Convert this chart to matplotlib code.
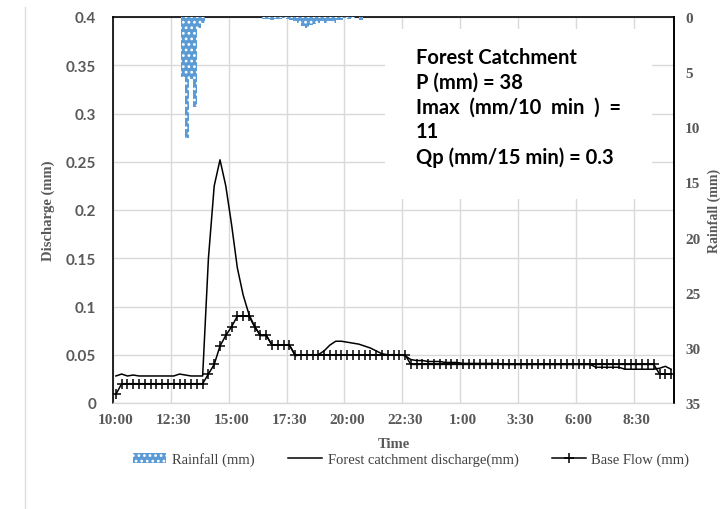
import numpy as np
import matplotlib
matplotlib.use("Agg")
import matplotlib.pyplot as plt
from matplotlib.patches import Patch, Rectangle
from matplotlib.lines import Line2D

# ---------------- data ----------------
start_time = "10:00"
step_min = 15
forest_q = [
    0.028, 0.030, 0.028, 0.029, 0.028, 0.028, 0.028, 0.028, 0.028, 0.028,
    0.028, 0.030, 0.029, 0.028, 0.028, 0.028, 0.150, 0.225, 0.252, 0.225,
    0.185, 0.140, 0.112, 0.092, 0.079, 0.070, 0.070, 0.060, 0.060, 0.060,
    0.060, 0.049, 0.050, 0.050, 0.050, 0.050, 0.054, 0.060, 0.064, 0.064,
    0.063, 0.062, 0.061, 0.059, 0.057, 0.054, 0.051, 0.050, 0.050, 0.050,
    0.049, 0.045, 0.044, 0.044, 0.043, 0.043, 0.043, 0.042, 0.042, 0.042,
    0.041, 0.041, 0.041, 0.041, 0.041, 0.041, 0.041, 0.040, 0.040, 0.040,
    0.040, 0.040, 0.040, 0.040, 0.040, 0.040, 0.040, 0.040, 0.040, 0.040,
    0.040, 0.040, 0.040, 0.037, 0.037, 0.037, 0.037, 0.037, 0.035, 0.035,
    0.035, 0.035, 0.035, 0.035, 0.036, 0.038, 0.035,
]
base_q = (
    [0.009] + [0.020] * 15 +
    [0.030, 0.040, 0.059, 0.070, 0.079, 0.090, 0.090, 0.090,
     0.079, 0.070, 0.070, 0.060, 0.060, 0.060, 0.060] +
    [0.050] * 20 + [0.040] * 43 + [0.030] * 3
)

rain_start = ["12:50", "13:00", "13:10", "13:20", "13:30", "13:40",
              "16:20", "16:30", "16:40", "16:50", "17:00", "17:10", "17:20",
              "17:30", "17:40", "17:50", "18:00", "18:10", "18:20", "18:30",
              "18:40", "18:50", "19:00", "19:10", "19:20", "19:30", "19:40",
              "19:50", "20:00", "20:10", "20:30"]
rain_mm = [5.4, 11.0, 5.6, 8.2, 1.0, 0.5,
           0.2, 0.2, 0.3, 0.2, 0.2, 0.1, 0.2,
           0.3, 0.4, 0.5, 0.8, 1.0, 0.7, 0.6,
           0.5, 0.4, 0.5, 0.4, 0.5, 0.3, 0.3,
           0.1, 0.2, 0.1, 0.3]

xtick_labels = ["10:00", "12:30", "15:00", "17:30", "20:00", "22:30",
                "1:00", "3:30", "6:00", "8:30"]
label_step_min = 150
ytick_left = [0, 0.05, 0.1, 0.15, 0.2, 0.25, 0.3, 0.35, 0.4]
ytick_right = [0, 5, 10, 15, 20, 25, 30, 35]

note = "Forest Catchment\nP (mm) = 38\nImax  (mm/10  min  )  =\n11\nQp (mm/15 min) = 0.3"


def to_min(s):
    h, m = map(int, s.split(":"))
    h0, m0 = map(int, start_time.split(":"))
    d = (h * 60 + m) - (h0 * 60 + m0)
    return d if d >= 0 else d + 1440


t = np.arange(len(forest_q)) * step_min
rain_t = [to_min(s) for s in rain_start]

# ---------------- figure ----------------
W, H = 728, 510
fig = plt.figure(figsize=(W / 100, H / 100), dpi=100)
ax = fig.add_axes([113 / W, 1 - 404 / H, 561 / W, 386 / H])

serif = "Liberation Serif"
sans = "Lato"
grey = "#595959"
gridc = "#D9D9D9"

half = step_min / 2
ax.set_xlim(-half, t[-1] + half)
ax.set_ylim(0, 0.4)

# gridlines between categories (Excel style), labels on categories
lab_pos = np.arange(len(xtick_labels)) * label_step_min
ax.set_xticks(lab_pos)
ax.set_xticklabels(xtick_labels, fontfamily=serif, fontweight="bold",
                   fontsize=11, color=grey)
ax.set_xticks(lab_pos - half, minor=True)
ax.tick_params(axis="x", which="both", length=0, pad=7)
ax.grid(False)
ax.xaxis.grid(True, which="minor", color=gridc, lw=1.0)

ax.set_yticks(ytick_left)
ax.set_yticklabels([f"{v:g}" for v in ytick_left], fontfamily=sans,
                   fontweight="bold", fontsize=11, color=grey)
ax.tick_params(axis="y", length=0, pad=12)
ax.yaxis.grid(True, color=gridc, lw=1.0)
ax.set_axisbelow(True)

ax.plot(t, forest_q, color="black", lw=1.1, zorder=3,
        label="Forest catchment discharge(mm)")
ax.plot(t, base_q, color="black", lw=1.1, marker="+", ms=7, mew=1.1,
        zorder=3, label="Base Flow (mm)")

ax.set_xlabel("Time", fontfamily=serif, fontweight="bold", fontsize=10.5,
              color=grey, labelpad=8)
ax.set_ylabel("Discharge (mm)", fontfamily=serif, fontweight="bold",
              fontsize=10.5, color=grey, labelpad=8)

for s in ["top", "left", "right"]:
    ax.spines[s].set_color("black")
    ax.spines[s].set_linewidth(1.2)
ax.spines["bottom"].set_color(gridc)
ax.spines["bottom"].set_linewidth(1.0)

# white annotation box
ax.add_patch(Rectangle((0.485, 0.528), 0.476, 0.441, transform=ax.transAxes,
                       facecolor="white", edgecolor="none", zorder=2))

# rainfall on inverted secondary axis
plt.rcParams["hatch.linewidth"] = 1.2
ax2 = ax.twinx()
ax2.set_ylim(35, 0)
ax2.bar(rain_t, rain_mm, width=10, align="edge", facecolor="#5B9BD5",
        edgecolor="white", hatch="...", linewidth=0, label="Rainfall (mm)")
ax2.set_yticks(ytick_right)
ax2.set_yticklabels([str(v) for v in ytick_right], fontfamily=serif,
                    fontweight="bold", fontsize=11, color=grey)
ax2.tick_params(axis="y", length=0, pad=8)
ax2.set_ylabel("Rainfall (mm)", fontfamily=serif, fontweight="bold",
               fontsize=10, color=grey, labelpad=5)
for s in ["top", "left", "bottom"]:
    ax2.spines[s].set_visible(False)
ax2.spines["right"].set_color("black")
ax2.spines["right"].set_linewidth(1.2)

fig.text(416 / W, 1 - 48 / H, note, fontfamily=sans, fontweight="bold",
         fontsize=14.5, color="black", va="top", ha="left", linespacing=1.3)

# legend
handles = [
    Patch(facecolor="#5B9BD5", edgecolor="white", hatch="...", linewidth=0,
          label="Rainfall (mm)"),
    Line2D([], [], color="black", lw=1.1, label="Forest catchment discharge(mm)"),
    Line2D([], [], color="black", lw=1.1, marker="+", ms=7, mew=1.1,
           label="Base Flow (mm)"),
]
leg = fig.legend(handles=handles, loc="center", ncol=3,
                 bbox_to_anchor=(411 / W, 1 - 460 / H), frameon=False,
                 prop={"family": serif, "size": 10.5}, handlelength=2.3,
                 columnspacing=2.3, handletextpad=0.4)
for txt in leg.get_texts():
    txt.set_color("#404040")

# faint page border at left
fig.add_artist(Line2D([25 / W, 25 / W], [0, 1 - 8 / H], color="#DDDDDD",
                      lw=1.0, transform=fig.transFigure))

fig.savefig("out.png", dpi=100)
